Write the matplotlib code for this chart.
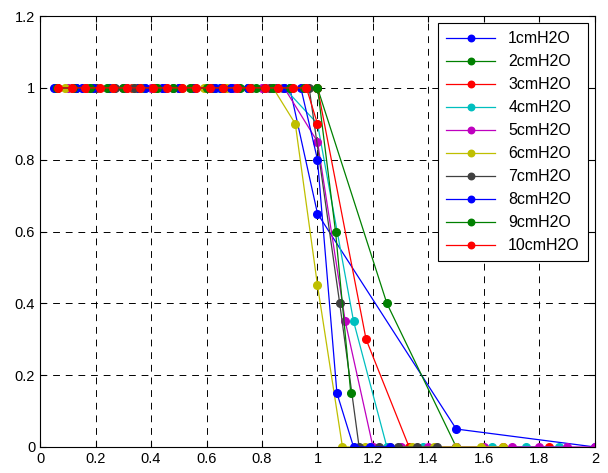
import matplotlib
matplotlib.use("Agg")
import matplotlib.pyplot as plt
from matplotlib.ticker import FuncFormatter

plt.rcParams['font.family'] = ['Liberation Sans', 'DejaVu Sans']

labels = ["1cmH2O", "2cmH2O", "3cmH2O", "4cmH2O", "5cmH2O",
          "6cmH2O", "7cmH2O", "8cmH2O", "9cmH2O", "10cmH2O"]
colors = ["#0000ff", "#008000", "#ff0000", "#00bfbf", "#bf00bf",
          "#bfbf00", "#404040", "#0000ff", "#008000", "#ff0000"]

# x / y, one pair per series
x1 = [0.05, 0.15, 0.25, 0.35, 0.45, 0.55, 0.65, 0.75, 0.85, 0.9, 1.0, 1.5, 2.0]
y1 = [1, 1, 1, 1, 1, 1, 1, 1, 1, 1, 0.65, 0.05, 0]

x2 = [0.125, 0.25, 0.375, 0.5, 0.625, 0.75, 0.875, 1.0, 1.25, 1.5]
y2 = [1, 1, 1, 1, 1, 1, 1, 1, 0.4, 0]

x3 = [0.17, 0.33, 0.5, 0.67, 0.83, 1.0, 1.175, 1.33, 1.5, 1.67, 1.835]
y3 = [1, 1, 1, 1, 1, 1, 0.3, 0, 0, 0, 0]

x4 = [0.13, 0.25, 0.38, 0.5, 0.63, 0.75, 0.88, 1.0, 1.13, 1.25, 1.38,
      1.5, 1.63, 1.75, 1.87]
y4 = [1, 1, 1, 1, 1, 1, 1, 0.9, 0.35, 0, 0, 0, 0, 0, 0]

x5 = [0.1, 0.2, 0.3, 0.4, 0.5, 0.6, 0.7, 0.8, 0.88, 1.0, 1.1, 1.2, 1.3,
      1.4, 1.5, 1.6, 1.7, 1.8, 1.9, 2.0]
y5 = [1, 1, 1, 1, 1, 1, 1, 1, 1, 0.85, 0.35, 0, 0, 0, 0, 0, 0, 0, 0, 0]

x6 = [0.09, 0.18, 0.26, 0.34, 0.42, 0.51, 0.59, 0.67, 0.76, 0.84, 0.92,
      1.0, 1.09, 1.17, 1.26, 1.34, 1.42, 1.5, 1.59, 1.67]
y6 = [1, 1, 1, 1, 1, 1, 1, 1, 1, 1, 0.9, 0.45, 0, 0, 0, 0, 0, 0, 0, 0]

x7 = [0.06, 0.13, 0.2, 0.27, 0.34, 0.41, 0.48, 0.55, 0.62, 0.69, 0.76,
      0.83, 0.9, 0.97, 1.08, 1.15, 1.22, 1.29, 1.36, 1.43]
y7 = [1, 1, 1, 1, 1, 1, 1, 1, 1, 1, 1, 1, 1, 1, 0.4, 0, 0, 0, 0, 0]

x8 = [0.06, 0.13, 0.19, 0.25, 0.31, 0.38, 0.44, 0.5, 0.56, 0.63, 0.69,
      0.75, 0.81, 0.88, 0.94, 1.0, 1.07, 1.13, 1.19, 1.26]
y8 = [1, 1, 1, 1, 1, 1, 1, 1, 1, 1, 1, 1, 1, 1, 1, 0.8, 0.15, 0, 0, 0]

x9 = [0.06, 0.12, 0.18, 0.24, 0.3, 0.36, 0.42, 0.48, 0.54, 0.6, 0.66,
      0.72, 0.78, 0.84, 0.9, 0.95, 1.0, 1.065, 1.12]
y9 = [1, 1, 1, 1, 1, 1, 1, 1, 1, 1, 1, 1, 1, 1, 1, 1, 1, 0.6, 0.15]

x10 = [0.066, 0.114, 0.162, 0.216, 0.264, 0.312, 0.36, 0.408, 0.456,
       0.513, 0.561, 0.613, 0.66, 0.709, 0.757, 0.811, 0.859, 0.911,
       0.96, 1.0]
y10 = [1, 1, 1, 1, 1, 1, 1, 1, 1, 1, 1, 1, 1, 1, 1, 1, 1, 1, 1, 0.9]

xs = [x1, x2, x3, x4, x5, x6, x7, x8, x9, x10]
ys = [y1, y2, y3, y4, y5, y6, y7, y8, y9, y10]

fig = plt.figure(figsize=(6.08, 4.73), dpi=100)
ax = fig.add_axes([0.0658, 0.055, 0.9128, 0.911])

for x, y, c, lab in zip(xs, ys, colors, labels):
    ax.plot(x, y, '-o', color=c, lw=0.9, ms=5.5, mec=c, label=lab)

ax.set_xlim(0, 2)
ax.set_ylim(0, 1.2)
ax.set_xticks([i * 0.2 for i in range(11)])
ax.set_yticks([i * 0.2 for i in range(7)])
fmt = FuncFormatter(lambda v, p: f"{v:g}")
ax.xaxis.set_major_formatter(fmt)
ax.yaxis.set_major_formatter(fmt)
ax.tick_params(direction='in', length=4, labelsize=10.5, top=True, right=True,
               width=0.8)
ax.grid(True, color='black', linestyle=(0, (7, 6)), linewidth=0.7)
for s in ax.spines.values():
    s.set_linewidth(0.8)

leg = ax.legend(loc='upper right', fontsize=11.5, frameon=True, fancybox=False,
                edgecolor='black', handlelength=3.1, borderaxespad=0.45,
                labelspacing=0.5, markerscale=0.85, borderpad=0.5)
leg.get_frame().set_linewidth(0.8)
leg.get_frame().set_alpha(1)

fig.savefig("out.png", dpi=100)
